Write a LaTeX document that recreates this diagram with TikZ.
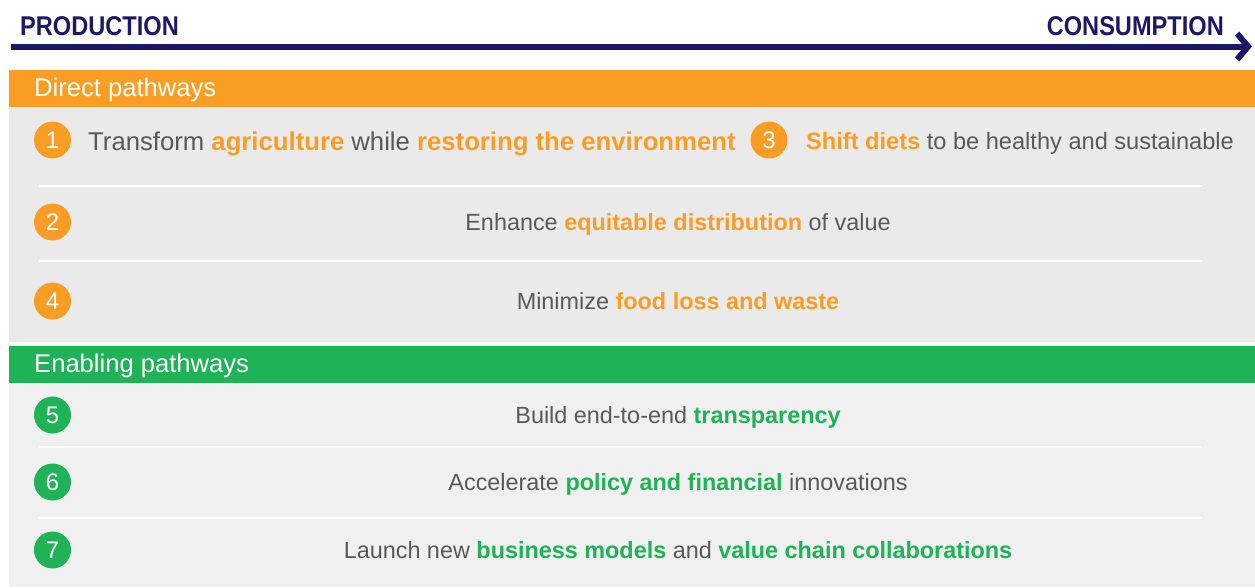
\documentclass[tikz,border=0pt]{standalone}
\usepackage{fontspec}
\setmainfont{Liberation Sans}
\usetikzlibrary{arrows.meta}
\definecolor{navy}{HTML}{1C1766}
\definecolor{orng}{HTML}{F99D25}
\definecolor{grn}{HTML}{1FB257}
\definecolor{txtgray}{HTML}{58595B}
\definecolor{bgA}{HTML}{EAEAEA}
\definecolor{bgB}{HTML}{F0F0F0}
\tikzset{
  axislabel/.style={font=\bfseries\fontsize{23.6}{24}\selectfont, text=navy, inner sep=0pt, yscale=1.15},
  bandlabel/.style={font=\fontsize{25.6}{26}\selectfont, text=white, anchor=west, inner sep=0pt},
  numcirc/.style={circle, minimum size=37pt, inner sep=0pt, text=white, font=\fontsize{24}{24}\selectfont},
  orangecirc/.style={numcirc, fill=orng},
  greencirc/.style={numcirc, fill=grn},
  rowtext/.style={font=\fontsize{23.4}{24}\selectfont, text=txtgray, inner sep=0pt, anchor=base},
  sepline/.style={white, line width=2pt},
}
\newcommand{\ho}[1]{\textcolor{orng}{\bfseries #1}}
\newcommand{\hg}[1]{\textcolor{grn}{\bfseries #1}}
\begin{document}
\begin{tikzpicture}[x=1pt,y=-1pt]
\useasboundingbox (0,0) rectangle (1255,587);
% arrow
\coordinate (axS) at (11,46.5);
\coordinate (axE) at (1252,46.5);
\draw[navy, line width=6pt, -{Straight Barb[length=11pt,width=26pt]}] (axS) -- (axE);
\node[axislabel, anchor=base west] (prod) at (20,35.5) {PRODUCTION};
\node[axislabel, anchor=base east] (cons) at (1224,35.5) {CONSUMPTION};
% direct band
\fill[orng] (9,70) rectangle (1255,107);
\fill[bgA] (9,107) rectangle (1255,342);
\node[bandlabel] (direct) at (34,90) {Direct pathways};
% enabling band
\fill[grn] (9,346) rectangle (1255,383);
\fill[bgB] (9,383) rectangle (1255,587);
\node[bandlabel] (enabling) at (34,366) {Enabling pathways};
% separators
\draw[sepline] (39,186) -- (1202,186);
\draw[sepline] (39,261) -- (1202,261);
\draw[sepline] (39,447) -- (1202,447);
\draw[sepline] (39,518) -- (1202,518);
% circles
\node[orangecirc] (c1) at (52.5,140) {1};
\node[orangecirc] (c2) at (52.5,222) {2};
\node[orangecirc] (c3) at (769,140) {3};
\node[orangecirc] (c4) at (52.5,301) {4};
\node[greencirc] (c5) at (52.5,415) {5};
\node[greencirc] (c6) at (52.5,482) {6};
\node[greencirc] (c7) at (52.5,550) {7};
% texts
\node[rowtext, anchor=base west, font=\fontsize{25.7}{26}\selectfont] (t1) at (88,150) {Transform \ho{agriculture} while \ho{restoring the environment}};
\node[rowtext, anchor=base west, font=\fontsize{23.6}{24}\selectfont] (t3) at (806,149.5) {\ho{Shift diets} to be healthy and sustainable};
\node[rowtext] (t2) at (678,230.5) {Enhance \ho{equitable distribution} of value};
\node[rowtext] (t4) at (678,309.5) {Minimize \ho{food loss and waste}};
\node[rowtext] (t5) at (678,423.5) {Build end-to-end \hg{transparency}};
\node[rowtext] (t6) at (678,490.5) {Accelerate \hg{policy and financial} innovations};
\node[rowtext] (t7) at (678,558.5) {Launch new \hg{business models} and \hg{value chain collaborations}};
\end{tikzpicture}
\end{document}
